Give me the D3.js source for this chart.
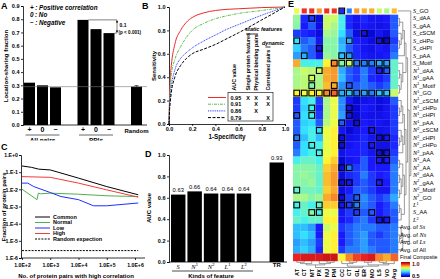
<!DOCTYPE html>
<html>
<head>
<meta charset="utf-8">
<script src="https://cdn.jsdelivr.net/npm/d3@7"></script>
<style>
  body { margin: 0; background: #fff; }
  svg { display: block; font-family: "Liberation Sans", Arial, sans-serif; }
</style>
</head>
<body>
<svg width="440" height="279"></svg>
<script>
// ---- data: panel A
const aGroups = ["All pairs", "PPIs", "Random"];
const aSigns = ["+", "0", "\u2212"];
const aAllPairs = [0.32, 0.30, 0.285];
const aPPIs = [0.795, 0.725, 0.695];
const aRandom = [0.29];
const aRandomErr = 0.008;
const aTicks = [0, 0.1, 0.2, 0.3, 0.4, 0.5, 0.6, 0.7, 0.8, 0.9];
const aLegend = [["+", "Positive correlation"], ["0", "No"], ["\u2212", "Negative"]];

// ---- data: panel B (ROC curves)
const rocFpr = [0, 0.005, 0.01, 0.02, 0.05, 0.1, 0.15, 0.2, 0.3, 0.4, 0.5, 0.6, 0.8, 1];
const rocRed = [0, 0.25, 0.38, 0.5, 0.68, 0.8, 0.87, 0.91, 0.95, 0.97, 0.98, 0.985, 0.995, 1];
const rocGreen = [0, 0.2, 0.3, 0.42, 0.55, 0.66, 0.74, 0.8, 0.86, 0.9, 0.925, 0.945, 0.97, 1];
const rocBlue = [0, 0.15, 0.22, 0.32, 0.46, 0.56, 0.61, 0.65, 0.71, 0.76, 0.81, 0.85, 0.93, 1];
const rocBlack = [0, 0.12, 0.18, 0.27, 0.4, 0.5, 0.56, 0.6, 0.64, 0.68, 0.73, 0.78, 0.89, 1];
const rocAuc = ["0.95", "0.91", "0.86", "0.79"];
const rocHeaders = ["AUC value", "Single protein features", "Physical binding pairs", "Correlated pairs"];
const rocMarks = [[1, 1, 1], [0, 1, 1], [0, 1, 0], [0, 0, 1]];
const bTicks = [0, 0.2, 0.4, 0.6, 0.8, 1.0];

// ---- data: panel C
const cCommonX = [1e2, 2.2e2, 3.9e2, 1e3, 1e4, 1e5, 1.3e6];
const cCommonY = [0.23, 0.19, 0.15, 0.135, 0.045, 0.0145, 0.0048];
const cNormalX = [1e2, 3.4e2, 3.8e2, 4.5e2, 1e3, 1e4, 1e5, 1.3e6];
const cNormalY = [0.0102, 0.0025, 0.006, 0.0055, 0.006, 0.0052, 0.0042, 0.0038];
const cLowX = [1e2, 1.6e2, 2.6e2, 1e3, 2.4e3, 1e4, 3.4e4, 1e5, 1.3e6];
const cLowY = [0.023, 0.023, 0.0145, 0.0065, 0.0038, 0.0025, 0.0011, 0.0011, 0.0016];
const cHighX = [1e2, 1e3, 1e4, 1e5, 1.3e6];
const cHighY = [0.055, 0.05, 0.023, 0.0093, 0.0035];
const cRandomX = [1e2, 1.3e6];
const cRandomY = [2.7e-6, 2.7e-6];
const cYTicks = [1, 1e-1, 1e-2, 1e-3, 1e-4, 1e-5, 1e-6];
const cYLabels = ["1.E+0", "1.E-1", "1.E-2", "1.E-3", "1.E-4", "1.E-5", "1.E-6"];
const cXTicks = [1e2, 1e3, 1e4, 1e5, 1e6];
const cXLabels = ["1.0E+2", "1.0E+3", "1.0E+4", "1.0E+5", "1.0E+6"];
const cSeries = ["Common", "Normal", "Low", "High", "Random expection"];

// ---- data: panel D
const dKinds = ["S", "N1", "N2", "L1", "L2", "TR"];
const dAuc = [0.63, 0.66, 0.64, 0.64, 0.64, 0.93];
const dTicks = [0, 0.2, 0.4, 0.6, 0.8, 1.0];

// ---- data: panel E
const eCols = ["AT", "CT", "MT", "PX", "NU", "PM", "CC", "CT", "GL", "ER", "MO", "LS", "VO", "Avg"];
const eRows = ["S_GO", "S_dAA", "S_gAA", "S_cSCM", "S_cHPo", "S_cHPI", "S_pAA", "S_Motif",
  "N1_dAA", "N1_gAA", "N1_Motif", "N1_GO", "N1_cSCM", "N1_cHPo", "N1_cHPI", "N1_pAA",
  "N2_cSCM", "N2_cHPI", "N2_cHPo", "N2_pAA", "N1_AA", "N2_AA", "N2_dAA", "N2_gAA",
  "N2_Motif", "N2_GO", "L1", "S_AA", "L2", "Avg. of Ss", "Avg. of Ns", "Avg. of Ls",
  "Avg. of All", "Final Composite"];
const eValues = [
  [0.80, 0.93, 0.93, 0.87, 0.93, 0.93, 0.57, 0.62, 0.87, 0.86, 0.86, 0.78, 0.76, 0.85],
  [0.75, 0.57, 0.58, 0.53, 0.78, 0.78, 0.70, 0.57, 0.55, 0.57, 0.55, 0.55, 0.56, 0.60],
  [0.74, 0.56, 0.60, 0.53, 0.78, 0.76, 0.70, 0.57, 0.54, 0.56, 0.55, 0.54, 0.55, 0.60],
  [0.58, 0.57, 0.56, 0.53, 0.76, 0.75, 0.68, 0.60, 0.53, 0.54, 0.52, 0.55, 0.53, 0.60],
  [0.68, 0.60, 0.62, 0.55, 0.74, 0.74, 0.65, 0.65, 0.56, 0.55, 0.53, 0.54, 0.52, 0.58],
  [0.67, 0.62, 0.60, 0.54, 0.74, 0.74, 0.66, 0.60, 0.57, 0.55, 0.54, 0.56, 0.55, 0.60],
  [0.64, 0.65, 0.60, 0.55, 0.75, 0.74, 0.66, 0.64, 0.57, 0.56, 0.55, 0.55, 0.56, 0.62],
  [0.86, 0.70, 0.70, 0.70, 0.82, 0.88, 0.74, 0.78, 0.62, 0.62, 0.62, 0.65, 0.64, 0.72],
  [0.76, 0.78, 0.77, 0.78, 0.86, 0.87, 0.65, 0.60, 0.58, 0.62, 0.58, 0.56, 0.60, 0.72],
  [0.76, 0.77, 0.78, 0.76, 0.86, 0.87, 0.66, 0.60, 0.58, 0.62, 0.57, 0.56, 0.58, 0.72],
  [0.76, 0.77, 0.74, 0.76, 0.85, 0.86, 0.63, 0.60, 0.60, 0.62, 0.60, 0.58, 0.60, 0.72],
  [0.82, 0.80, 0.82, 0.82, 0.88, 0.90, 0.65, 0.66, 0.62, 0.64, 0.62, 0.66, 0.66, 0.78],
  [0.58, 0.68, 0.70, 0.58, 0.76, 0.80, 0.63, 0.55, 0.52, 0.54, 0.55, 0.53, 0.54, 0.60],
  [0.58, 0.67, 0.70, 0.57, 0.76, 0.80, 0.63, 0.54, 0.52, 0.56, 0.55, 0.53, 0.55, 0.58],
  [0.60, 0.68, 0.70, 0.58, 0.76, 0.80, 0.64, 0.55, 0.52, 0.55, 0.54, 0.54, 0.55, 0.58],
  [0.60, 0.67, 0.68, 0.60, 0.77, 0.80, 0.60, 0.54, 0.53, 0.56, 0.55, 0.55, 0.54, 0.58],
  [0.60, 0.68, 0.70, 0.68, 0.80, 0.82, 0.55, 0.52, 0.54, 0.56, 0.55, 0.54, 0.55, 0.58],
  [0.62, 0.66, 0.70, 0.66, 0.80, 0.82, 0.53, 0.54, 0.55, 0.57, 0.55, 0.53, 0.55, 0.57],
  [0.60, 0.68, 0.70, 0.70, 0.80, 0.82, 0.53, 0.55, 0.56, 0.57, 0.56, 0.54, 0.54, 0.57],
  [0.62, 0.68, 0.70, 0.70, 0.80, 0.82, 0.54, 0.56, 0.56, 0.57, 0.55, 0.53, 0.54, 0.58],
  [0.70, 0.72, 0.72, 0.70, 0.82, 0.84, 0.52, 0.55, 0.56, 0.60, 0.56, 0.56, 0.56, 0.60],
  [0.74, 0.74, 0.74, 0.72, 0.84, 0.86, 0.53, 0.62, 0.58, 0.60, 0.56, 0.56, 0.56, 0.62],
  [0.74, 0.75, 0.74, 0.72, 0.85, 0.87, 0.53, 0.57, 0.58, 0.62, 0.58, 0.56, 0.57, 0.62],
  [0.74, 0.74, 0.75, 0.72, 0.85, 0.87, 0.53, 0.55, 0.58, 0.60, 0.58, 0.56, 0.56, 0.62],
  [0.72, 0.73, 0.73, 0.72, 0.84, 0.86, 0.53, 0.56, 0.60, 0.60, 0.58, 0.55, 0.55, 0.62],
  [0.76, 0.76, 0.74, 0.75, 0.86, 0.88, 0.53, 0.58, 0.60, 0.63, 0.60, 0.58, 0.60, 0.65],
  [0.70, 0.72, 0.70, 0.72, 0.84, 0.84, 0.55, 0.58, 0.62, 0.62, 0.60, 0.56, 0.58, 0.62],
  [0.70, 0.72, 0.74, 0.70, 0.80, 0.80, 0.55, 0.58, 0.58, 0.60, 0.60, 0.56, 0.58, 0.60],
  [0.72, 0.70, 0.72, 0.72, 0.82, 0.82, 0.55, 0.57, 0.60, 0.62, 0.58, 0.54, 0.55, 0.60],
  [0.66, 0.66, 0.64, 0.56, 0.78, 0.80, 0.58, 0.60, 0.62, 0.62, 0.62, 0.60, 0.60, 0.62],
  [0.66, 0.68, 0.66, 0.56, 0.80, 0.82, 0.56, 0.60, 0.62, 0.64, 0.60, 0.58, 0.60, 0.62],
  [0.64, 0.66, 0.64, 0.58, 0.80, 0.82, 0.56, 0.60, 0.62, 0.64, 0.60, 0.60, 0.60, 0.62],
  [0.65, 0.67, 0.65, 0.57, 0.80, 0.82, 0.58, 0.62, 0.62, 0.64, 0.62, 0.60, 0.60, 0.62],
  [0.94, 0.95, 0.95, 0.95, 0.96, 0.96, 0.82, 0.88, 0.92, 0.94, 0.95, 0.88, 0.86, 0.90]
];
// highlighted cells [row, col]
const eHighlights = [
  [0, 6], [1, 2], [3, 9], [4, 0], [4, 7], [4, 11], [4, 12], [5, 3], [6, 1], [6, 6], [6, 7],
  [7, 5], [7, 6], [7, 7], [7, 8], [7, 9], [7, 10], [7, 11], [7, 12],
  [8, 3], [8, 11], [8, 12], [9, 2], [10, 2], [10, 5], [10, 7],
  [11, 0], [11, 1], [11, 2], [11, 3], [11, 4], [11, 5], [11, 6], [11, 7], [11, 8], [11, 9], [11, 10], [11, 11], [11, 12],
  [13, 2], [13, 7], [14, 0], [14, 2], [14, 7], [15, 6], [15, 8], [16, 3], [16, 10],
  [17, 0], [17, 6], [17, 11], [17, 12], [18, 2], [18, 6], [18, 10], [19, 3], [19, 11], [19, 12], [20, 11], [20, 12],
  [21, 6], [21, 7], [23, 6], [23, 7], [23, 11], [24, 0], [25, 6], [25, 8],
  [26, 0], [26, 3], [26, 6], [26, 7], [26, 8], [27, 2], [27, 3], [27, 8], [27, 10], [28, 11], [28, 12]
];
const eRowTree = [0, [[[[[[1, 2], [3, [4, 5]]], 6], [7, [[8, 9], [10, 11]]]],
  [[[[12, [13, 14]], 15], [[16, [17, 18]], 19]], [[[20, 21], [[22, 23], [24, 25]]], [[26, 27], 28]]]],
  [[29, [30, 31]], 32]]];
const eColTree = [[[[0, 1], 2], [3, [4, 5]]], [[6, [7, 8]], [[9, 10], [[11, 12], 13]]]];

const svg = d3.select("svg");
const defs = svg.append("defs");

function styleAxis(g, size) {
  g.attr("font-size", size || 5.5).attr("font-family", null).attr("font-weight", "bold");
  g.selectAll("path, line").attr("stroke", "#000").attr("stroke-width", 0.8);
  g.selectAll("text").attr("fill", "#000");
}

function panelLabel(x, y, t) {
  svg.append("text").attr("x", x).attr("y", y).attr("font-size", 9)
    .attr("font-weight", "bold").text(t);
}

// ================= Panel A =================
defs.append("clipPath").attr("id", "clipA")
  .append("rect").attr("x", 0).attr("y", 0).attr("width", 150).attr("height", 140.5);
const gA = svg.append("g").attr("clip-path", "url(#clipA)");

const yA = d3.scaleLinear().domain([0, 0.9]).range([125, 6]);
const xA = d3.scaleOrdinal().domain(aGroups).range([42.5, 96, 136.5]);
const barStep = 13, barW = 11;

const aBars = [
  ...aAllPairs.map((v, i) => ({ g: "All pairs", i, v })),
  ...aPPIs.map((v, i) => ({ g: "PPIs", i, v })),
  ...aRandom.map((v) => ({ g: "Random", i: 1, v }))
];
const barX = (d) => xA(d.g) + (d.i - 1) * barStep;

gA.append("g")
  .attr("transform", "translate(23,0)")
  .call(d3.axisLeft(yA).tickValues(aTicks).tickFormat(d3.format(".1f")).tickSize(2).tickPadding(1.5))
  .call((g) => styleAxis(g));

gA.selectAll("rect.bar").data(aBars).enter().append("rect")
  .attr("x", (d) => barX(d) - barW / 2)
  .attr("y", (d) => yA(d.v))
  .attr("width", barW)
  .attr("height", (d) => yA(0) - yA(d.v))
  .attr("fill", "#000");

gA.append("line").attr("x1", 23).attr("x2", 147)
  .attr("y1", yA(aRandom[0])).attr("y2", yA(aRandom[0]))
  .attr("stroke", "#777").attr("stroke-width", 0.6);
gA.append("line").attr("x1", 23).attr("x2", 147).attr("y1", yA(0)).attr("y2", yA(0))
  .attr("stroke", "#000").attr("stroke-width", 0.8);

// error bar on random
const rx = xA("Random");
gA.append("path")
  .attr("d", `M${rx},${yA(aRandom[0])}V${yA(aRandom[0] + aRandomErr)}M${rx - 2},${yA(aRandom[0] + aRandomErr)}H${rx + 2}`)
  .attr("stroke", "#000").attr("stroke-width", 0.6).attr("fill", "none");

// significance bracket
const bx = 117;
const yTop = yA(aPPIs[0]), yBot = yA(aPPIs[2]);
gA.append("path")
  .attr("d", `M${xA("PPIs") - barStep + barW / 2},${yTop}H${bx}M${xA("PPIs") + barStep + barW / 2},${yBot}H${bx}M${bx},${yTop + 1}V${yBot - 1}`)
  .attr("stroke", "#000").attr("stroke-width", 0.5).attr("fill", "none");
gA.append("path").attr("d", `M${bx - 1.2},${yTop + 2.5}L${bx},${yTop}L${bx + 1.2},${yTop + 2.5}Z`);
gA.append("path").attr("d", `M${bx - 1.2},${yBot - 2.5}L${bx},${yBot}L${bx + 1.2},${yBot - 2.5}Z`);
gA.append("text").attr("x", 119.5).attr("y", 27).attr("font-size", 5).attr("font-weight", "bold").text("0.1");
gA.append("text").attr("x", 118.5).attr("y", 33.5).attr("font-size", 4.6).attr("font-weight", "bold").text("(p < 0.001)");

// legend
aLegend.forEach((d, i) => {
  const t = gA.append("text").attr("x", 30).attr("y", 9.5 + i * 7.5)
    .attr("font-size", 6.3).attr("font-weight", "bold").attr("font-style", "italic");
  t.append("tspan").text(d[0]);
  t.append("tspan").attr("dx", 1.5).text(": " + d[1]);
});

// x labels
aBars.filter((d) => d.g !== "Random").forEach((d) => {
  gA.append("text").attr("x", barX(d)).attr("y", 132).attr("text-anchor", "middle")
    .attr("font-size", 7).attr("font-weight", "bold").text(aSigns[d.i]);
});
["All pairs", "PPIs"].forEach((g) => {
  gA.append("line").attr("x1", xA(g) - 17).attr("x2", xA(g) + 17).attr("y1", 135).attr("y2", 135)
    .attr("stroke", "#000").attr("stroke-width", 0.6);
  gA.append("text").attr("x", xA(g)).attr("y", 142.5).attr("text-anchor", "middle")
    .attr("font-size", 6.5).attr("font-weight", "bold").text(g);
});
gA.append("text").attr("x", rx).attr("y", 133).attr("text-anchor", "middle")
  .attr("font-size", 6).attr("font-weight", "bold").text("Random");

gA.append("text").attr("transform", "translate(8,66) rotate(-90)").attr("text-anchor", "middle")
  .attr("font-size", 6).attr("font-weight", "bold").text("Location-sharing fraction");
panelLabel(1, 9, "A");

// ================= Panel B =================
const xB = d3.scaleLinear().domain([0, 1]).range([169, 285]);
const yB = d3.scaleLinear().domain([0, 1]).range([124, 7]);

svg.append("g").attr("transform", "translate(169,0)")
  .call(d3.axisLeft(yB).tickValues(bTicks).tickFormat(d3.format(".1f")).tickSize(2).tickPadding(1.5))
  .call((g) => styleAxis(g));
svg.append("g").attr("transform", "translate(0,124)")
  .call(d3.axisBottom(xB).tickValues(bTicks).tickFormat(d3.format(".1f")).tickSize(2).tickPadding(1.5))
  .call((g) => styleAxis(g));

const rocSeries = [
  { tpr: rocRed, color: "#ee2a2a", dash: null },
  { tpr: rocGreen, color: "#5cbf4f", dash: "3,1,1,1" },
  { tpr: rocBlue, color: "#2b3cff", dash: "1,0.8" },
  { tpr: rocBlack, color: "#000", dash: "3,1.5" }
];
const rocLine = d3.line().x((d) => xB(d[0])).y((d) => yB(d[1])).curve(d3.curveMonotoneX);
rocSeries.forEach((s) => {
  svg.append("path").datum(rocFpr.map((f, i) => [f, s.tpr[i]]))
    .attr("d", rocLine).attr("fill", "none").attr("stroke", s.color)
    .attr("stroke-width", 1).attr("stroke-dasharray", s.dash);
});

// table legend
const colX = [234, 248, 256, 268];
svg.append("rect").attr("x", 228).attr("y", 92.5).attr("width", 45).attr("height", 28.5)
  .attr("fill", "#fff").attr("stroke", "#000").attr("stroke-width", 0.6);
rocHeaders.forEach((h, i) => {
  svg.append("text").attr("transform", `translate(${colX[i] + 2},90.5) rotate(-90)`)
    .attr("font-size", 5.3).attr("font-weight", "bold").text(h);
});
rocSeries.forEach((s, r) => {
  const y = 97.5 + r * 6.7;
  svg.append("line").attr("x1", 208).attr("x2", 226).attr("y1", y).attr("y2", y)
    .attr("stroke", s.color).attr("stroke-width", 1).attr("stroke-dasharray", s.dash);
  svg.append("text").attr("x", 230.5).attr("y", y + 2).attr("font-size", 5.5)
    .attr("font-weight", "bold").text(rocAuc[r]);
  rocMarks[r].forEach((m, c) => {
    if (m) svg.append("text").attr("x", colX[c + 1]).attr("y", y + 2).attr("text-anchor", "middle")
      .attr("font-size", 5.5).attr("font-weight", "bold").text("X");
  });
});
svg.append("text").attr("x", 245).attr("y", 31).attr("font-size", 5.5).attr("font-weight", "bold")
  .attr("font-style", "italic").text("static features");
svg.append("line").attr("x1", 246).attr("x2", 258).attr("y1", 34).attr("y2", 34)
  .attr("stroke", "#000").attr("stroke-width", 0.8);
svg.append("text").attr("x", 262).attr("y", 44.5).attr("font-size", 5.5).attr("font-weight", "bold")
  .attr("font-style", "italic").text("dynamic");
svg.append("line").attr("x1", 265.5).attr("x2", 270.5).attr("y1", 47).attr("y2", 47)
  .attr("stroke", "#000").attr("stroke-width", 0.8);

svg.append("text").attr("transform", "translate(156,66) rotate(-90)").attr("text-anchor", "middle")
  .attr("font-size", 6).attr("font-weight", "bold").text("Sensitivity");
svg.append("text").attr("x", 227).attr("y", 138.5).attr("text-anchor", "middle")
  .attr("font-size", 6.3).attr("font-weight", "bold").text("1-Specificity");
panelLabel(142, 9, "B");

// ================= Panel C =================
const xC = d3.scaleLog().domain([1e2, 1e6]).range([22, 135]);
const yC = d3.scaleLog().domain([1, 1e-6]).range([155, 258]);

svg.append("g").attr("transform", "translate(21,0)")
  .call(d3.axisLeft(yC).tickValues(cYTicks).tickFormat((d, i) => cYLabels[i]).tickSize(2).tickPadding(1))
  .call((g) => styleAxis(g, 5.2));
svg.append("g").attr("transform", "translate(0,258)")
  .call(d3.axisBottom(xC).tickValues(cXTicks).tickFormat((d, i) => cXLabels[i]).tickSize(2).tickPadding(3))
  .call((g) => styleAxis(g, 5.2))
  .call((g) => g.select(".domain").attr("d", "M21,0H145"));

const cData = [
  { x: cCommonX, y: cCommonY, color: "#000", dash: null },
  { x: cNormalX, y: cNormalY, color: "#4fb04f", dash: null },
  { x: cLowX, y: cLowY, color: "#1f2fff", dash: null },
  { x: cHighX, y: cHighY, color: "#f23b3b", dash: null },
  { x: cRandomX, y: cRandomY, color: "#000", dash: "2,1.2" }
];
const cLine = d3.line().x((d) => xC(d[0])).y((d) => yC(d[1]));
cData.forEach((s) => {
  svg.append("path").datum(s.x.map((x, i) => [x, s.y[i]]))
    .attr("d", cLine).attr("fill", "none").attr("stroke", s.color)
    .attr("stroke-width", 1).attr("stroke-dasharray", s.dash);
});
cSeries.forEach((name, i) => {
  const y = 217 + i * 5.5;
  svg.append("line").attr("x1", 35).attr("x2", 50).attr("y1", y).attr("y2", y)
    .attr("stroke", cData[i].color).attr("stroke-width", 1).attr("stroke-dasharray", cData[i].dash);
  svg.append("text").attr("x", 53).attr("y", y + 1.9).attr("font-size", 5.5)
    .attr("font-weight", "bold").text(name);
});
svg.append("text").attr("transform", "translate(6,207) rotate(-90)").attr("text-anchor", "middle")
  .attr("font-size", 6).attr("font-weight", "bold").text("Fraction of protein pairs");
svg.append("text").attr("x", 76).attr("y", 277.5).attr("text-anchor", "middle")
  .attr("font-size", 6).attr("font-weight", "bold").text("No. of protein pairs with high correlation");
panelLabel(1, 150, "C");

// ================= Panel D =================
const yD = d3.scaleLinear().domain([0, 1]).range([262, 155]);
const xD = d3.scaleBand().domain([...dKinds.slice(0, 5), "", dKinds[5]]).range([171, 284]).paddingInner(0.12);

svg.append("g").attr("transform", "translate(169,0)")
  .call(d3.axisLeft(yD).tickValues(dTicks).tickFormat(d3.format(".1f")).tickSize(2).tickPadding(1.5))
  .call((g) => styleAxis(g));
svg.append("line").attr("x1", 169).attr("x2", 287).attr("y1", 262).attr("y2", 262)
  .attr("stroke", "#000").attr("stroke-width", 0.8);

svg.selectAll("rect.dbar").data(dKinds).enter().append("rect")
  .attr("x", (d) => xD(d))
  .attr("y", (d, i) => yD(dAuc[i]))
  .attr("width", xD.bandwidth())
  .attr("height", (d, i) => yD(0) - yD(dAuc[i]))
  .attr("fill", "#000");
dKinds.forEach((k, i) => {
  const cx = xD(k) + xD.bandwidth() / 2;
  svg.append("text").attr("x", cx).attr("y", yD(dAuc[i]) - 2.5).attr("text-anchor", "middle")
    .attr("font-size", 5.8).text(dAuc[i].toFixed(2));
  const t = svg.append("text").attr("x", cx).attr("y", 268.5).attr("text-anchor", "middle");
  if (k === "TR") {
    t.attr("y", 267).attr("font-size", 6).attr("font-weight", "bold").text(k);
  } else {
    t.append("tspan").attr("font-family", "Liberation Serif").attr("font-style", "italic")
      .attr("font-size", 6.5).text(k[0]);
    if (k[1]) t.append("tspan").attr("font-size", 4).attr("dy", -2.3).text(k[1]);
  }
});
svg.append("line").attr("x1", 172).attr("x2", 253).attr("y1", 271).attr("y2", 271)
  .attr("stroke", "#000").attr("stroke-width", 0.7);
svg.append("text").attr("x", 211).attr("y", 277.8).attr("text-anchor", "middle")
  .attr("font-size", 6).attr("font-weight", "bold").text("Kinds of feature");
svg.append("text").attr("transform", "translate(151,208) rotate(-90)").attr("text-anchor", "middle")
  .attr("font-size", 6).attr("font-weight", "bold").text("AUC value");
panelLabel(145, 157, "D");

// ================= Panel E =================
const jet = d3.scaleLinear()
  .domain([0.5, 0.5625, 0.6875, 0.8125, 0.9375, 1.0])
  .range(["#0000c0", "#1a1aff", "#33eeff", "#ffff33", "#ee2222", "#900000"])
  .clamp(true);
const xE = d3.scaleBand().domain(d3.range(eCols.length)).range([293, 398]);
const yE = d3.scaleBand().domain(d3.range(eRows.length)).range([7.2, 261]);
const cw = xE.bandwidth(), ch = yE.bandwidth();

const cells = [];
eValues.forEach((row, r) => row.forEach((v, c) => cells.push({ r, c, v })));
svg.append("g").selectAll("rect").data(cells).enter().append("rect")
  .attr("x", (d) => xE(d.c) + (d.r === 0 ? 1.2 : 0))
  .attr("y", (d) => yE(d.r) + (d.r === 0 ? 1.2 : 0))
  .attr("width", (d) => (d.r === 0 ? cw - 2.4 : cw + 0.2))
  .attr("height", (d) => (d.r === 0 ? ch - 2.4 : ch + 0.2))
  .attr("fill", (d) => jet(d.v));

svg.append("line").attr("x1", xE(6)).attr("x2", xE(6)).attr("y1", yE(1)).attr("y2", yE(33) + ch)
  .attr("stroke", "#fff").attr("stroke-width", 0.7).attr("stroke-opacity", 0.8);

svg.append("g").selectAll("rect").data(eHighlights).enter().append("rect")
  .attr("x", (d) => xE(d[1]) + 0.9)
  .attr("y", (d) => yE(d[0]) + 0.9)
  .attr("width", cw - 1.8)
  .attr("height", ch - 1.8)
  .attr("fill", "none").attr("stroke", "#000").attr("stroke-width", 1.1);

// dendrograms
function drawTree(tree, posOf, level, vertical) {
  const g = svg.append("g").attr("stroke", "#555").attr("stroke-width", 0.6).attr("fill", "none");
  const seg = (a1, p1, a2, p2) => {
    const l = g.append("line");
    if (vertical) l.attr("x1", p1).attr("y1", a1).attr("x2", p2).attr("y2", a2);
    else l.attr("x1", a1).attr("y1", p1).attr("x2", a2).attr("y2", p2);
  };
  function walk(node) {
    if (!Array.isArray(node)) return { p: posOf(node), h: 0 };
    const kids = node.map(walk);
    const h = d3.max(kids, (k) => k.h) + 1;
    const lo = d3.min(kids, (k) => k.p), hi = d3.max(kids, (k) => k.p);
    kids.forEach((k) => seg(level(k.h), k.p, level(h), k.p));
    seg(level(h), lo, level(h), hi);
    return { p: (lo + hi) / 2, h };
  }
  walk(tree);
}
drawTree(eRowTree, (i) => yE(i) + ch / 2, (h) => 398 + h * 1.6, false);
drawTree(eColTree, (i) => xE(i) + cw / 2, (h) => 261 + h * 1.3, true);

// row labels
eRows.forEach((name, i) => {
  const lx = i >= 29 ? 400 : 413;
  const t = svg.append("text").attr("x", lx).attr("y", yE(i) + ch / 2 + 2)
    .attr("font-size", name === "Final Composite" ? 5.2 : 5.8);
  const m = name.match(/^([SNL])([12]?)(_.+)?$/);
  if (m) {
    t.append("tspan").attr("font-family", "Liberation Serif").attr("font-style", "italic")
      .attr("font-size", 6.3).text(m[1]);
    if (m[2]) t.append("tspan").attr("font-size", 3.8).attr("dy", -2.2).text(m[2]);
    if (m[3]) t.append("tspan").attr("dy", m[2] ? 2.2 : 0).text(m[3]);
  } else if (/^Avg\. of [SNL]s$/.test(name)) {
    t.append("tspan").text("Avg. of ");
    t.append("tspan").attr("font-family", "Liberation Serif").attr("font-style", "italic")
      .attr("font-size", 6.3).text(name.slice(8));
  } else {
    t.text(name);
  }
});

// column labels
eCols.forEach((c, i) => {
  svg.append("text")
    .attr("transform", `translate(${xE(i) + cw / 2 + 2},269) rotate(-90)`)
    .attr("text-anchor", "end").attr("font-size", 5.5).attr("font-weight", "bold").text(c);
});

// colour key
const grad = defs.append("linearGradient").attr("id", "jetGrad")
  .attr("x1", 0).attr("y1", 0).attr("x2", 0).attr("y2", 1);
d3.range(0, 1.0001, 0.1).forEach((t) => {
  grad.append("stop").attr("offset", t).attr("stop-color", jet(1 - t * 0.5));
});
svg.append("rect").attr("x", 401).attr("y", 262).attr("width", 9).attr("height", 15)
  .attr("fill", "url(#jetGrad)");
svg.append("text").attr("x", 412).attr("y", 266).attr("font-size", 5.5).attr("font-weight", "bold")
  .attr("fill", "#600").text("1.0");
svg.append("text").attr("x", 412).attr("y", 278).attr("font-size", 5.5).attr("font-weight", "bold")
  .text("0.5");
panelLabel(288, 7, "E");
</script>
</body>
</html>
